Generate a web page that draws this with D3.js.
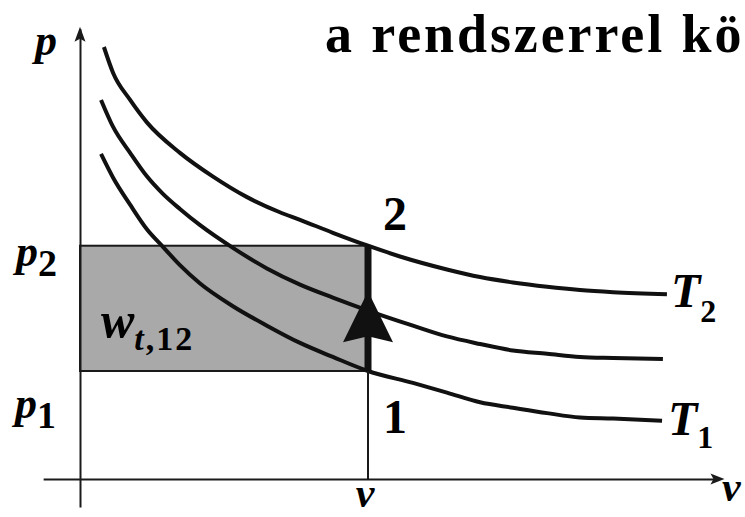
<!DOCTYPE html>
<html>
<head>
<meta charset="utf-8">
<script src="https://cdn.jsdelivr.net/npm/d3@7"></script>
<style>
  html, body { margin: 0; padding: 0; background: #fff; overflow: hidden; }
  svg { display: block; }
</style>
</head>
<body>
<svg id="chart" width="745" height="517"></svg>
<script>
// Specific volume v (state v = 1) and pressure p (p1 = 1) along each isotherm
const t2V  = [0.083, 0.115, 0.174, 0.233, 0.347, 0.462, 0.580, 0.694, 0.764, 0.878, 1.000, 1.111, 1.274, 1.389, 1.503, 1.622, 1.736, 1.851, 2.038];
const t2P  = [4.00, 3.76, 3.51, 3.30, 3.02, 2.80, 2.61, 2.47, 2.40, 2.28, 2.16, 2.06, 1.94, 1.87, 1.82, 1.78, 1.75, 1.73, 1.71];

const tMidV = [0.073, 0.115, 0.174, 0.233, 0.288, 0.347, 0.417, 0.531, 0.649, 0.764, 0.878, 1.000, 1.156, 1.274, 1.389, 1.503, 1.622, 1.736, 1.851, 2.024];
const tMidP = [3.51, 3.26, 3.02, 2.80, 2.64, 2.50, 2.35, 2.14, 1.95, 1.80, 1.68, 1.56, 1.42, 1.32, 1.25, 1.19, 1.16, 1.13, 1.12, 1.11];

const t1V  = [0.073, 0.115, 0.174, 0.233, 0.288, 0.347, 0.417, 0.531, 0.649, 0.764, 0.878, 1.000, 1.156, 1.274, 1.389, 1.503, 1.622, 1.736, 1.851, 2.021];
const t1P  = [3.01, 2.79, 2.54, 2.31, 2.15, 1.98, 1.81, 1.60, 1.42, 1.26, 1.13, 1.00, 0.89, 0.80, 0.71, 0.66, 0.61, 0.57, 0.56, 0.54];

// Process 1 -> 2 at constant v
const stateV = 1.0;
const p1 = 1.0;
const p2 = 2.16;

// Axis extents (data units)
const vAxisRange = [-0.128, 2.21];
const pAxisRange = [-0.26, 4.17];

const FONT = "Liberation Serif, Times New Roman, serif";

const svg = d3.select("#chart");

const x = d3.scaleLinear().domain([0, 1]).range([80, 368]);
const y = d3.scaleLinear().domain([0, 1]).range([479, 371]);

// Shaded technical work area w_t,12
svg.append("rect")
  .attr("x", x(0))
  .attr("y", y(p2))
  .attr("width", x(stateV) - x(0))
  .attr("height", y(p1) - y(p2))
  .attr("fill", "#a9a9a9")
  .attr("stroke", "#1a1a1a")
  .attr("stroke-width", 2);

// Axes (no ticks, just the lines with arrowheads)
const xAxisScale = x.copy().domain(vAxisRange).range([x(vAxisRange[0]), x(vAxisRange[1])]);
const yAxisScale = y.copy().domain(pAxisRange).range([y(pAxisRange[0]), y(pAxisRange[1])]);

const gx = svg.append("g")
  .attr("transform", `translate(0,${y(0)})`)
  .call(d3.axisBottom(xAxisScale).tickValues([]).tickSizeOuter(0));
gx.select(".domain").attr("stroke", "#1a1a1a").attr("stroke-width", 2);

const gy = svg.append("g")
  .attr("transform", `translate(${x(0)},0)`)
  .call(d3.axisLeft(yAxisScale).tickValues([]).tickSizeOuter(0));
gy.select(".domain").attr("stroke", "#1a1a1a").attr("stroke-width", 2);

// Arrowheads on the axes
const xTip = x(vAxisRange[1]) + 8, xBase = x(vAxisRange[1]) - 6, ax0 = y(0);
svg.append("path")
  .attr("d", `M${xTip},${ax0} L${xBase},${ax0 - 5.5} L${xBase + 3},${ax0} L${xBase},${ax0 + 5.5} Z`)
  .attr("fill", "#1a1a1a");
const yTip = y(pAxisRange[1]) - 2, yBase = y(pAxisRange[1]) + 13, ay0 = x(0);
svg.append("path")
  .attr("d", `M${ay0},${yTip} L${ay0 + 5.5},${yBase} L${ay0},${yBase - 3} L${ay0 - 5.5},${yBase} Z`)
  .attr("fill", "#1a1a1a");

// Isotherms
const line = d3.line()
  .x(d => x(d[0]))
  .y(d => y(d[1]))
  .curve(d3.curveMonotoneX);

const curves = [
  d3.zip(t2V, t2P),
  d3.zip(tMidV, tMidP),
  d3.zip(t1V, t1P)
];
svg.selectAll("path.iso")
  .data(curves)
  .join("path")
  .attr("class", "iso")
  .attr("d", line)
  .attr("fill", "none")
  .attr("stroke", "#111")
  .attr("stroke-width", 4)
  .attr("stroke-linecap", "butt");

// Thin drop line from state 1 to the v axis
svg.append("line")
  .attr("x1", x(stateV)).attr("x2", x(stateV))
  .attr("y1", y(p1)).attr("y2", y(0))
  .attr("stroke", "#1a1a1a")
  .attr("stroke-width", 2);

// Process line 1 -> 2
svg.append("line")
  .attr("x1", x(stateV)).attr("x2", x(stateV))
  .attr("y1", y(p1)).attr("y2", y(p2))
  .attr("stroke", "#111")
  .attr("stroke-width", 7);

// Direction arrow on the process line
const mx = x(stateV);
const my = (y(p1) + y(p2)) / 2;
svg.append("path")
  .attr("d", `M${mx},${my - 17} L${mx + 25},${my + 34} L${mx},${my + 28} L${mx - 25},${my + 34} Z`)
  .attr("fill", "#111");

// Text helper: a bold serif label made of tspans
function label(xp, yp, size, italic, parts, anchor) {
  const t = svg.append("text")
    .attr("x", xp).attr("y", yp)
    .attr("font-family", FONT)
    .attr("font-weight", "bold")
    .attr("fill", "#000")
    .attr("font-size", size)
    .attr("font-style", italic ? "italic" : "normal");
  if (anchor) t.attr("text-anchor", anchor);
  parts.forEach(p => {
    const ts = t.append("tspan").text(p.text);
    if (p.size) ts.attr("font-size", p.size);
    if (p.italic !== undefined) ts.attr("font-style", p.italic ? "italic" : "normal");
    if (p.dy) ts.attr("dy", p.dy);
    if (p.dx) ts.attr("dx", p.dx);
    if (p.spacing) ts.attr("letter-spacing", p.spacing);
  });
  return t;
}

// Title (runs past the right edge)
label(325, 52, 54, false, [{ text: "a rendszerrel köz", spacing: 2.9 }]);

// Axis names
label(35, 55, 44, true, [{ text: "p" }]);
label(722, 501, 42, true, [{ text: "v" }]);

// Pressure levels
label(16, y(p2) + 20, 44, true, [{ text: "p" }, { text: "2", size: 38, italic: false, dy: 10 }]);
label(15, y(p1) + 47, 44, true, [{ text: "p" }, { text: "1", size: 38, italic: false, dy: 10 }]);

// Volume at the state
label(x(stateV) - 3, 507, 42, true, [{ text: "v" }], "middle");

// State numbers
label(x(stateV) + 15, y(p2) - 16, 48, false, [{ text: "2" }]);
label(x(stateV) + 15, y(p1) + 62, 48, false, [{ text: "1" }]);

// Work label
label(101, 337, 50, true, [
  { text: "w" },
  { text: "t", size: 34, dy: 13, spacing: 2 },
  { text: ",12", size: 34, italic: false, spacing: 2 }
]);

// Isotherm names
label(671, 307, 48, true, [{ text: "T" }, { text: "2", size: 32, italic: false, dy: 15 }]);
label(668, 435, 48, true, [{ text: "T" }, { text: "1", size: 32, italic: false, dy: 13 }]);
</script>
</body>
</html>
